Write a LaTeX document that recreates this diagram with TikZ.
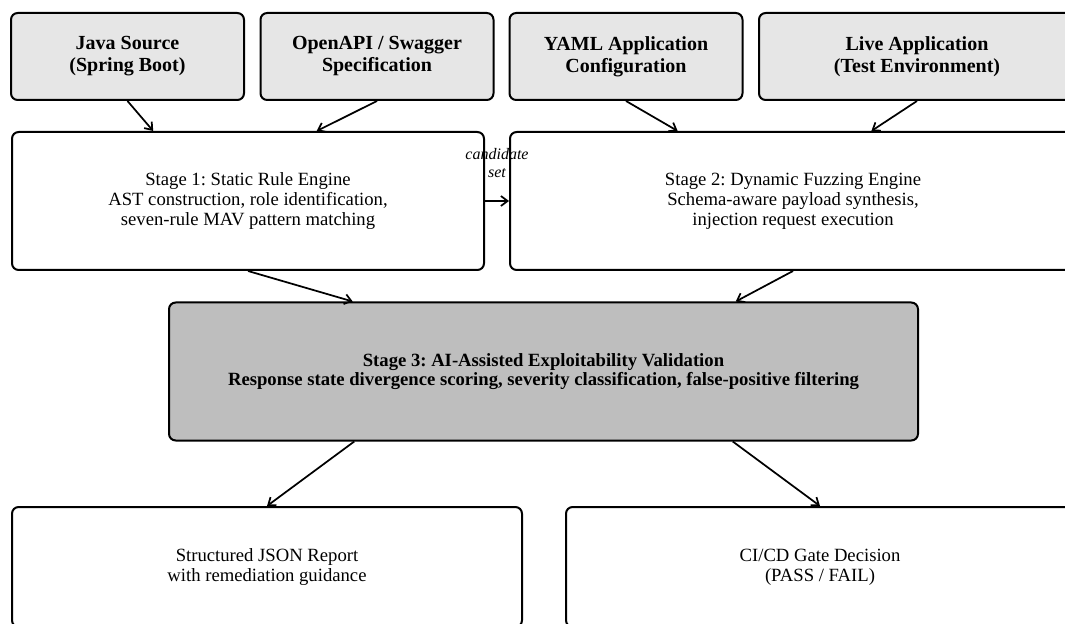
\documentclass[tikz,border=0pt]{standalone}
\usepackage{fontspec}
\setmainfont{Liberation Serif}
\frenchspacing
\usetikzlibrary{arrows.meta,calc}
\definecolor{srcgray}{HTML}{E6E6E6}
\definecolor{valgray}{HTML}{BEBEBE}
\tikzset{
  srcbox/.style={draw, line width=1.5pt, rounded corners=5pt, fill=srcgray, align=center,
    inner sep=0pt, minimum width=174.75pt, minimum height=65.25pt,
    font=\fontsize{15}{16.5}\selectfont\bfseries},
  stagebox/.style={draw, line width=1.5pt, rounded corners=5pt, fill=white, align=center,
    inner sep=0pt, minimum height=103.5pt, font=\fontsize{14}{15}\selectfont},
  valbox/.style={stagebox, fill=valgray, font=\fontsize{14}{14.5}\selectfont\bfseries},
  outbox/.style={stagebox, minimum height=90pt},
  flow/.style={-{Straight Barb[length=5pt,width=7.5pt]}, line width=1.3pt},
}
\begin{document}
\begin{tikzpicture}[x=0.75pt,y=-0.75pt]
\useasboundingbox (0,0) rectangle (1065,624);
\clip (0,0) rectangle (1065,624);
\node[srcbox] (java) at (127.5,56.5) {Java Source\\(Spring Boot)};
\node[srcbox] (openapi) at (377,56.5) {OpenAPI / Swagger\\Specification};
\node[srcbox] (yaml) at (626,56.5) {YAML Application\\Configuration};
\node[srcbox, minimum width=237pt] (live) at (917,56.5) {Live Application\\(Test Environment)};
\node[stagebox, minimum width=354pt] (stageone) at (248,201) {Stage 1: Static Rule Engine\\AST construction, role identification,\\seven-rule MAV pattern matching};
\node[stagebox, minimum width=424.5pt] (stagetwo) at (793,201) {Stage 2: Dynamic Fuzzing Engine\\Schema-aware payload synthesis,\\injection request execution};
\node[valbox, minimum width=561.75pt] (stagethree) at (543.5,371.5) {Stage 3: AI-Assisted Exploitability Validation\\Response state divergence scoring, severity classification, false-positive filtering};
\node[outbox, minimum width=382.5pt] (report) at (267,567) {Structured JSON Report\\with remediation guidance};
\node[outbox, minimum width=381pt] (gate) at (820,567) {CI/CD Gate Decision\\(PASS / FAIL)};
\node[align=center, inner sep=0pt, font=\fontsize{12}{13}\selectfont\itshape] (cand) at (497,163) {candidate\\set};
\draw[flow] (java.south) -- ($(stageone.north west)!0.3!(stageone.north east)$);
\draw[flow] (openapi.south) -- ($(stageone.north west)!0.645!(stageone.north east)$);
\draw[flow] (yaml.south) -- ($(stagetwo.north west)!0.297!(stagetwo.north east)$);
\draw[flow] (live.south) -- ($(stagetwo.north west)!0.638!(stagetwo.north east)$);
\draw[flow] (stageone.east) -- (stagetwo.west);
\draw[flow] (stageone.south) -- ($(stagethree.north west)!0.246!(stagethree.north east)$);
\draw[flow] (stagetwo.south) -- ($(stagethree.north west)!0.756!(stagethree.north east)$);
\draw[flow] ($(stagethree.south west)!0.248!(stagethree.south east)$) -- (report.north);
\draw[flow] ($(stagethree.south west)!0.752!(stagethree.south east)$) -- (gate.north);
\end{tikzpicture}
\end{document}
